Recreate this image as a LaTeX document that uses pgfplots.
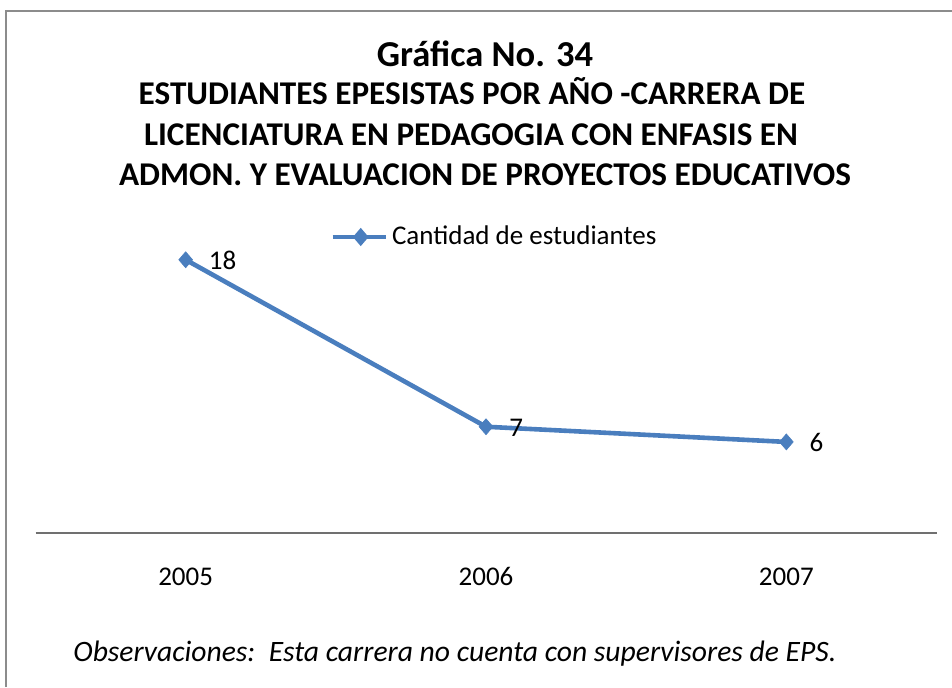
\documentclass[border=0pt]{standalone}
\usepackage{pgfplots}
\pgfplotsset{compat=1.18}
\usepackage{fontspec}
\setmainfont{Carlito}
\definecolor{exblue}{RGB}{74,126,190}
\definecolor{frame}{RGB}{140,140,140}
\begin{document}
\begin{tikzpicture}[x=0.5pt,y=0.5pt]
\useasboundingbox (0,0) rectangle (952,687);
\draw[frame,line width=1pt] (6,0) -- (6,676) -- (952,676);
\node[anchor=base, font=\bfseries\fontsize{18.25}{20}\selectfont] at (485,620) {Gráfica No. 34};
\node[anchor=base, font=\bfseries\fontsize{16.6}{18}\selectfont] at (472,582) {ESTUDIANTES EPESISTAS POR AÑO -CARRERA DE};
\node[anchor=base, font=\bfseries\fontsize{16.6}{18}\selectfont] at (471,541) {LICENCIATURA EN PEDAGOGIA CON ENFASIS EN};
\node[anchor=base, font=\bfseries\fontsize{16.6}{18}\selectfont] at (485,502) {ADMON. Y EVALUACION DE PROYECTOS EDUCATIVOS};
\coordinate (O) at (35.5,154);
\begin{axis}[
  at={(O)}, anchor=south west,
  scale only axis, width=450.5pt, height=151.8pt,
  xmin=-0.5, xmax=2.5, ymin=0, ymax=20,
  axis y line=none, axis x line*=bottom,
  axis line style={draw=frame!80!black, line width=0.7pt, -},
  xtick={0,1,2}, xticklabels={2005,2006,2007},
  major tick length=0pt,
  xticklabel style={font=\fontsize{13.5}{15}\selectfont, anchor=base, yshift=-26pt},
  /pgf/number format/assume math mode=true,
  clip=false,
  legend style={at={(0.3269,0.975)}, anchor=west, draw=none, fill=none,
    inner sep=0pt, font=\fontsize{13.5}{15}\selectfont},
  legend cell align=left,
  legend image code/.code={
    \draw[exblue, line width=2.3pt] (0pt,0pt) -- (26.5pt,0pt);
    \fill[exblue] (14pt,0pt) +(0,2.8pt) -- +(2.4pt,0) -- +(0,-2.8pt) -- +(-2.4pt,0) -- cycle;
  },
  nodes near coords,
  every node near coord/.append style={anchor=base west, inner sep=0pt, xshift=11.5pt, yshift=-5pt,
     font=\fontsize{13.5}{15}\selectfont, black},
]
\addplot[exblue, line width=2.3pt, mark=diamond*, mark size=4pt,
  mark options={fill=exblue, draw=exblue, line width=0.3pt, xscale=1.15}]
  coordinates {(0,18) (1,7) (2,6)};
\addlegendentry{Cantidad de estudiantes}
\end{axis}
\node[anchor=base west, inner sep=0pt, font=\itshape\fontsize{14.8}{16}\selectfont] at (73,26)
  {Observaciones:\ \ Esta carrera no cuenta con supervisores de EPS.};
\end{tikzpicture}
\end{document}
